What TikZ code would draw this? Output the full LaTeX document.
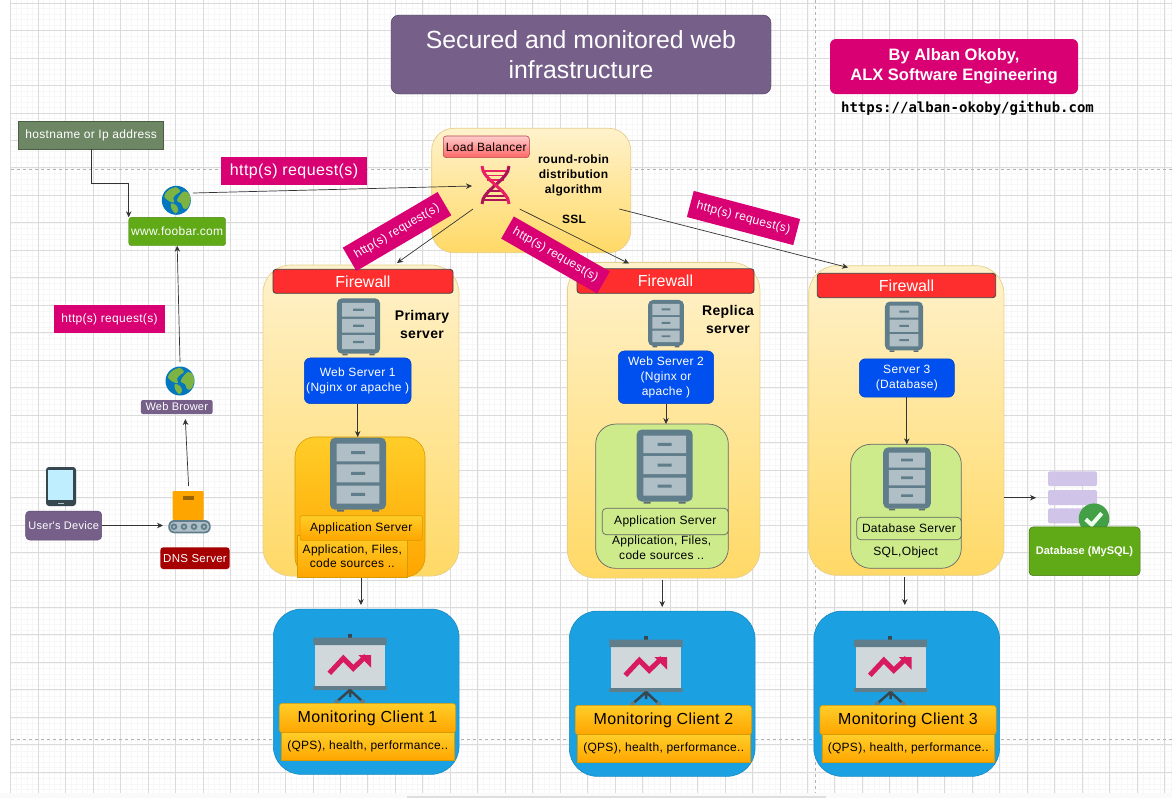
\documentclass[tikz,border=0pt]{standalone}
\usepackage{fontspec}
\usepackage{xcolor}
\usetikzlibrary{arrows.meta, positioning, calc}
\setmainfont{Liberation Sans}
\newfontfamily\hinted[LetterSpace=2.5]{Liberation Sans}
\newfontfamily\urlfont{DejaVu Sans Mono}
\newcommand{\pxfont}[2]{\fontsize{#1}{#2}\selectfont}

\definecolor{pinkbox}{HTML}{D80073}
\definecolor{purplebox}{HTML}{76608A}
\definecolor{greenbox}{HTML}{60A917}
\definecolor{hostbox}{HTML}{6D8764}
\definecolor{bluebox}{HTML}{0050EF}
\definecolor{creamtop}{HTML}{FFF2CC}
\definecolor{creambottom}{HTML}{FFD966}
\definecolor{creamline}{HTML}{E6CF8B}
\definecolor{ambertop}{HTML}{FFCD28}
\definecolor{amberbottom}{HTML}{FFA500}
\definecolor{amberline}{HTML}{D79B00}
\definecolor{limefill}{HTML}{CDEB8B}
\definecolor{firered}{HTML}{FF2E2E}
\definecolor{skyfill}{HTML}{1BA1E2}
\definecolor{steel}{HTML}{607D8B}
\definecolor{steellight}{HTML}{B0BEC5}
\definecolor{steeldark}{HTML}{37474F}
\definecolor{helixpink}{HTML}{E91E63}
\definecolor{helixdark}{HTML}{AD1457}
\definecolor{chartpink}{HTML}{D81B60}
\definecolor{stacklilac}{HTML}{D1C4E9}
\definecolor{ticknode}{HTML}{43A047}
\definecolor{earthblue}{HTML}{0277BD}
\definecolor{earthgreen}{HTML}{7CB342}

\tikzset{
  boxsize/.style 2 args={minimum width=#1pt, minimum height=#2pt},
  solidbox/.style={fill=#1, text=white, align=center, font=\hinted\pxfont{12}{15}},
  request/.style={fill=pinkbox, text=white, font=\hinted\pxfont{#1}{15}},
  yellowbox/.style={draw=creamline, line width=.7pt, top color=creamtop, bottom color=creambottom, rounded corners=28pt},
  orangebox/.style={draw=amberline, line width=.6pt, top color=ambertop, bottom color=amberbottom, text=black, align=center, font=\hinted\pxfont{12}{14.7}},
  limebox/.style={draw=black!60, line width=.7pt, fill=limefill, text=black, align=center, font=\hinted\pxfont{12}{14.7}},
  firewall/.style={draw=black!75, line width=.8pt, fill=firered, rounded corners=3pt, text=white, font=\pxfont{16}{18}},
  webserver/.style={draw=bluebox!80!black, line width=.5pt, fill=bluebox, rounded corners=6pt, text=white, align=center, font=\hinted\pxfont{12}{15}},
  boldlabel/.style 2 args={text=black, align=center, font=\hinted\bfseries\pxfont{#1}{#2}},
  monitorbox/.style={draw=skyfill!85!black, line width=.6pt, fill=skyfill, rounded corners=28pt},
  link/.style={->, draw=black!80, line width=.7pt},
  cabinet/.pic={
    \fill[steel, rounded corners=5pt] (-28,-36) rectangle (28,36);
    \fill[steeldark!80] (-21,36) rectangle (-14,38) (14,36) rectangle (21,38);
    \fill[steellight] (-21.3,-30) rectangle (21.3,-12.3) (-21.3,-9.3) rectangle (21.3,8.7) (-21.3,12) rectangle (21.3,30);
    \fill[steel] (-7,-22.7) rectangle (7,-19.7) (-7,-1.8) rectangle (7,1.2) (-7,19.2) rectangle (7,22.2);
  },
  globe/.pic={
    \fill[earthblue] (0,0) circle (14.5);
    \fill[earthgreen] plot[smooth cycle, tension=.6] coordinates {(-12,-4) (-8,-10) (0,-13) (4,-9) (0,-6) (-3,-2) (-2,2) (-7,1)};
    \fill[earthgreen] plot[smooth cycle, tension=.6] coordinates {(2,-3) (8,-9) (13,-6) (14,1) (11,8) (7,8) (5,3) (1,1)};
    \fill[earthgreen] plot[smooth cycle, tension=.6] coordinates {(-5,3) (0,5) (2,10) (-1,13) (-5,8)};
  },
  screen/.pic={
    \fill[steeldark] (-2.3,-29.7) rectangle (1.7,-26.3);
    \fill[steellight!60!white] (-35,-19) rectangle (35,23);
    \fill[steel] (-36.7,-26.3) rectangle (36.7,-19) (-36.7,22) rectangle (36.7,26);
    \draw[steeldark, line width=2.5pt] (0,26) -- (-13.3,37.7) (0,26) -- (12.7,37.7) (0,26) -- (0,33);
    \fill[steel] (-13.3,37.7) circle (2.5) (12.7,37.7) circle (2.5);
    \draw[chartpink, line width=5pt] (-20.7,9.3) -- (-6.7,-5.7) -- (3.3,4.3) -- (16,-8);
    \fill[chartpink] (8.3,-9) -- (21,-9) -- (21,3.7) -- cycle;
  }
}

\begin{document}
\begin{tikzpicture}[x=1pt, y=-1pt, >={Stealth[length=6pt,width=5.5pt]},
    every node/.style={inner sep=0pt, outer sep=0pt}]
  \useasboundingbox (0,0) rectangle (1172,798);
  \fill[white] (0,0) rectangle (1172,798);
  \fill[black!2] (0,793) rectangle (1172,798);
  \fill[black!13] (407,796) rectangle (826,798);
  % grid paper
  \begin{scope}[shift={(10.7,3)}]
    \draw[black!3, line width=.5pt, step=5.5pt] (0,-3) grid (1161.3,790);
    \draw[black!14, line width=.7pt, step=27.47pt] (0,-3) grid (1161.3,790);
  \end{scope}
  \draw[black!30, line width=.8pt, dashed] (11,169) -- (1172,169);
  \draw[black!30, line width=.8pt, dashed] (11,739) -- (1172,739);
  \draw[black!30, line width=.8pt, dashed] (815,0) -- (815,793);

  \node[draw=purplebox!60!black, fill=purplebox, rounded corners=8pt, boxsize={380}{79}, text=white, align=center, font=\pxfont{24.8}{30}] (title) at (581,54.5) {Secured and monitored web\\infrastructure};
  \node[fill=pinkbox, rounded corners=6pt, boxsize={248}{55}, text=white, align=center, font=\bfseries\pxfont{16.5}{20}] (author) at (954,66.5) {By Alban Okoby,\\ALX Software Engineering};
  \node[font=\urlfont\bfseries\pxfont{14}{16}] (url) at (967.5,108.5) {https://alban-okoby/github.com};

  % client side
  \node[solidbox=hostbox, draw=hostbox!70!black, line width=.5pt, boxsize={145}{28}] (hostname) at (91.2,135.3) {hostname or Ip address};
  \node[solidbox=greenbox, draw=greenbox!80!black, rounded corners=3pt, boxsize={97}{28.4}] (foobar) at (177.2,231.5) {www.foobar.com};
  \node[solidbox=purplebox, rounded corners=2pt, boxsize={71.7}{14}, font=\hinted\pxfont{11}{13}] (browser) at (176.8,407) {Web Brower};
  \node[solidbox=purplebox, draw=purplebox!80!black, line width=.5pt, rounded corners=4pt, boxsize={76}{29}, font=\hinted\pxfont{11}{13}] (device) at (63.7,525.5) {User's Device};
  \node[solidbox=red!65!black, rounded corners=3pt, boxsize={69.4}{21.7}, font=\hinted\pxfont{11.5}{13}] (dns) at (195,558.2) {DNS Server};
  \pic at (176.3,200.3) {globe};
  \pic at (180,381) {globe};
  % tablet
  \fill[steeldark, rounded corners=3pt] (46,467) rectangle (76,506);
  \fill[blue!25!cyan!25!white] (48.3,470) rectangle (73.3,500);
  \fill[steellight] (57.5,502.5) rectangle (64,504);
  % conveyor
  \fill[amberbottom, rounded corners=1pt] (172.7,491) rectangle (203.7,520);
  \fill[amberbottom!60!black] (183.3,496.3) rectangle (193.7,499.7);
  \fill[steel, rounded corners=6pt] (168.3,520) rectangle (210.7,533.3);
  \fill[steellight, rounded corners=4pt] (170,522) rectangle (209,531.5);
  \fill[steel] (174,526.7) circle (3.3) (184,526.7) circle (3.3) (194,526.7) circle (3.3) (204,526.7) circle (3.3);
  \fill[steellight] (174,526.7) circle (1.3) (184,526.7) circle (1.3) (194,526.7) circle (1.3) (204,526.7) circle (1.3);

  % load balancer
  \node[yellowbox, rounded corners=22pt, boxsize={199}{124.4}] (balancer) at (531.2,190.5) {};
  \node[draw=red!60!black!70, line width=.6pt, top color=red!20!white, bottom color=red!60!white, rounded corners=3pt, boxsize={86}{21.7}, text=black, font=\hinted\pxfont{12}{14}] (lblabel) at (486.3,146.8) {Load Balancer};
  \node[boldlabel={12}{15}] (robin) at (573.5,175) {round-robin\\distribution\\algorithm};
  \node[boldlabel={12}{15}] (ssl) at (574,219) {SSL};
  % helix
  \draw[helixpink, line width=1.4pt]
    (484,171) -- (507,171) (484,175.5) -- (507,175.5) (487,180) -- (504,180);
  \draw[helixdark, line width=1.4pt]
    (487,191) -- (504,191) (484,196) -- (507,196) (484,200) -- (507,200);
  \draw[helixdark, line width=3pt] (509,166) .. controls (509,180) and (482,190) .. (482,204);
  \draw[helixpink, line width=3pt] (482,166) .. controls (482,180) and (509,190) .. (509,204);

  % server columns
  \node[yellowbox, boxsize={196}{311}] (primary) at (361,420.5) {};
  \node[yellowbox, boxsize={192.5}{315.6}] (replica) at (663.7,420.3) {};
  \node[yellowbox, boxsize={195.3}{309.6}] (database) at (906.3,420.5) {};
  \node[firewall, boxsize={180}{24}] (firewallA) at (363,281.3) {Firewall};
  \node[firewall, boxsize={177}{24.5}] (firewallB) at (665.5,281) {Firewall};
  \node[firewall, boxsize={178.4}{24.4}] (firewallC) at (906.5,285.5) {Firewall};
  \node[boldlabel={14}{18}] (primarytext) at (422,324) {Primary\\server};
  \node[boldlabel={14}{18}] (replicatext) at (728,319) {Replica\\server};
  \pic[scale=.77] at (358.5,326) {cabinet};
  \pic[scale=.64] at (666,323) {cabinet};
  \pic[scale=.68] at (904,326) {cabinet};
  \node[webserver, boxsize={106.7}{45.7}] (webA) at (357.7,380.8) {Web Server 1\\(Nginx or apache )};
  \node[webserver, boxsize={95.4}{52.7}] (webB) at (666,377.3) {Web Server 2\\(Nginx or\\apache )};
  \node[webserver, boxsize={95}{38.4}] (webC) at (906.8,378) {Server 3\\(Database)};

  \node[orangebox, rounded corners=20pt, boxsize={130}{140}] (appA) at (360,507) {};
  \node[orangebox, boxsize={110}{42.3}] (filesA) at (352.3,556.2) {Application, Files,\\code sources ..};
  \node[orangebox, rounded corners=2pt, boxsize={122.3}{24.6}] (applabelA) at (361.2,528) {Application Server};
  \node[limebox, rounded corners=20pt, boxsize={132.6}{144.3}] (appB) at (662,496.2) {};
  \node[limebox, rounded corners=4pt, boxsize={126}{26.4}] (applabelB) at (665.3,521.5) {Application Server};
  \node[align=center, font=\hinted\pxfont{12}{14.7}] (filesB) at (661.7,548) {Application, Files,\\code sources ..};
  \node[limebox, rounded corners=20pt, boxsize={110.6}{124}] (appC) at (906,506.3) {};
  \node[limebox, rounded corners=4pt, boxsize={104.6}{22.4}] (applabelC) at (909,528.5) {Database Server};
  \node[font=\hinted\pxfont{12}{14.7}] (sqlobject) at (905.7,552.7) {SQL,Object};
  \pic at (358,473.7) {cabinet};
  \pic at (664.7,465.5) {cabinet};
  \pic[scale=.85] at (907,478) {cabinet};

  % database icon
  \fill[stacklilac, rounded corners=2pt] (1048,471.3) rectangle (1097,486) (1048,490) rectangle (1097,505) (1048,508.3) rectangle (1097,523.3);
  \fill[ticknode] (1094,518.7) circle (15.3);
  \draw[green!8!white, line width=4pt] (1085.7,519.3) -- (1091.7,524.7) -- (1101.7,513.3);
  \node[solidbox=greenbox, draw=greenbox!70!black, line width=.5pt, rounded corners=4pt, boxsize={111}{48.7}, font=\bfseries\pxfont{11}{13}] (mysql) at (1084.5,551.3) {Database (MySQL)};

  % monitoring
  \node[monitorbox, boxsize={185.7}{165.3}] (monitorA) at (366.2,691.7) {};
  \node[monitorbox, boxsize={185.7}{165.3}] (monitorB) at (662.2,693.7) {};
  \node[monitorbox, boxsize={185.7}{165.3}] (monitorC) at (906.7,693.7) {};
  \pic at (350,664) {screen};
  \pic at (646,666) {screen};
  \pic at (890.5,666) {screen};
  \node[orangebox, rounded corners=3pt, boxsize={176.4}{29.4}, font=\hinted\pxfont{16}{18}] (clientA) at (367.5,718) {Monitoring Client 1};
  \node[orangebox, rounded corners=3pt, boxsize={176.4}{29.4}, font=\hinted\pxfont{16}{18}] (clientB) at (663.5,720) {Monitoring Client 2};
  \node[orangebox, rounded corners=3pt, boxsize={176.4}{29.4}, font=\hinted\pxfont{16}{18}] (clientC) at (908,720) {Monitoring Client 3};
  \node[orangebox, boxsize={172.7}{28}] (healthA) at (367.7,746.7) {(QPS), health, performance..};
  \node[orangebox, boxsize={172.7}{28}] (healthB) at (663.7,748.7) {(QPS), health, performance..};
  \node[orangebox, boxsize={172.7}{28}] (healthC) at (908.2,748.7) {(QPS), health, performance..};

  % free ends
  \coordinate (globeout) at (193,193);
  \coordinate (helixin) at (472,186);
  \coordinate (browserout) at (180,362);
  \coordinate (dnsout) at (188.6,486);
  \coordinate (browserin) at (185.3,419);
  \coordinate (dnsin) at (163,525.5);
  \coordinate (lboutA) at (473,209);
  \coordinate (lboutB) at (519.7,209);
  \coordinate (lboutC) at (619.3,209);
  \coordinate (columnA) at (397,263);
  \coordinate (columnB) at (629,263.5);
  \coordinate (columnC) at (848,267.5);
  \coordinate (stackin) at (1036,497.7);

  \draw[link] (hostname.south) -- ++(0,34) -| (foobar.north west);
  \draw[link] (browserout) -- (foobar.south);
  \draw[link] (dnsout) -- (browserin);
  \draw[link] (device.east) -- (dnsin);
  \draw[link] (globeout) -- (helixin);
  \draw[link] (lboutA) -- (columnA);
  \draw[link] (lboutB) -- (columnB);
  \draw[link] (lboutC) -- (columnC);
  \draw[link] (webA.south) -- (webA.south |- appA.north);
  \draw[link] (webB.south) -- (webB.south |- appB.north);
  \draw[link] (webC.south) -- (webC.south |- appC.north);
  \draw[link, shorten <=2pt, shorten >=4pt] (primary.south) -- (primary.south |- monitorA.north);
  \draw[link, shorten <=2pt, shorten >=4pt] ([xshift=-1.5pt]replica.south) -- ([xshift=-1.5pt]replica.south |- monitorB.north);
  \draw[link, shorten <=2pt, shorten >=6pt] ([xshift=-1.5pt]database.south) -- ([xshift=-1.5pt]database.south |- monitorC.north);
  \draw[link] (database.east |- stackin) -- (stackin);

  % request tags
  \node[request=16, boxsize={145.4}{28.6}] (reqtop) at (294,171) {http(s) request(s)};
  \node[request=12, boxsize={111}{28}] (reqleft) at (109.5,319) {http(s) request(s)};
  \node[request=12, boxsize={110}{27}, rotate=30.4] (reqA) at (397,231.5) {http(s) request(s)};
  \node[request=12, boxsize={110.6}{25.5}, rotate=-29.8] (reqB) at (555.5,255) {http(s) request(s)};
  \node[request=12, boxsize={110}{27}, rotate=-14.8] (reqC) at (743.5,218) {http(s) request(s)};
\end{tikzpicture}
\end{document}
